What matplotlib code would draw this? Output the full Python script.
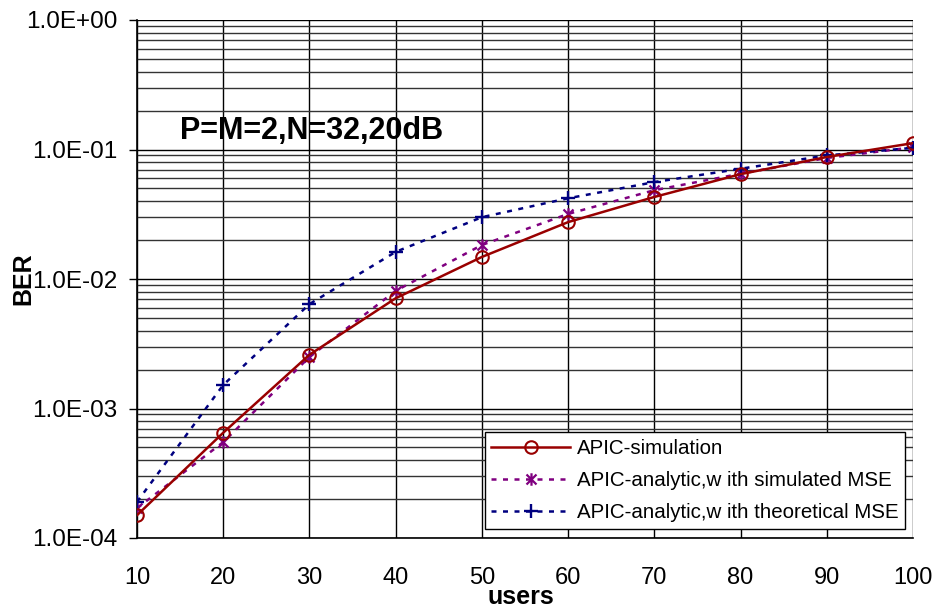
import math
import matplotlib
matplotlib.use("Agg")
import matplotlib.pyplot as plt
from matplotlib.path import Path
from matplotlib.ticker import FixedLocator, LogLocator, NullFormatter, FuncFormatter

plt.rcParams['font.family'] = ['Liberation Sans', 'DejaVu Sans']

users = [10, 20, 30, 40, 50, 60, 70, 80, 90, 100]
ber_sim = [1.5e-4, 6.5e-4, 2.6e-3, 7.1e-3, 1.48e-2, 2.75e-2, 4.3e-2, 6.45e-2, 8.75e-2, 1.12e-1]
ber_sim_mse = [1.7e-4, 5.5e-4, 2.5e-3, 8.1e-3, 1.83e-2, 3.18e-2, 4.85e-2, 6.5e-2, 8.6e-2, 1.04e-1]
ber_theo_mse = [1.9e-4, 1.52e-3, 6.4e-3, 1.62e-2, 3.0e-2, 4.2e-2, 5.6e-2, 7.1e-2, 9.0e-2, 1.03e-1]
labels = ["APIC-simulation", "APIC-analytic,w ith simulated MSE", "APIC-analytic,w ith theoretical MSE"]
annotation = "P=M=2,N=32,20dB"
xlabel = "users"
ylabel = "BER"

# Excel-style star marker: an X with a vertical bar
star = Path([(-1, -1), (1, 1), (-1, 1), (1, -1), (0, -1.25), (0, 1.25)],
            [Path.MOVETO, Path.LINETO, Path.MOVETO, Path.LINETO, Path.MOVETO, Path.LINETO])

W, H = 932, 610
fig = plt.figure(figsize=(W / 100, H / 100), dpi=100)
ax = fig.add_axes([137 / W, 1 - 538 / H, (913 - 137) / W, (538 - 20) / H])

ax.set_yscale('log')
ax.set_xlim(10, 100)
ax.set_ylim(1e-4, 1e0)

ax.plot(users, ber_sim, color='#990000', lw=1.8, marker='o', ms=9, mfc='none',
        mec='#990000', mew=1.5, label=labels[0], zorder=4)
ax.plot(users, ber_sim_mse, color='#800080', lw=1.8, ls=(0, (2.0, 2.6)), marker=star, ms=9,
        mew=1.6, label=labels[1], zorder=3)
ax.plot(users, ber_theo_mse, color='#000080', lw=1.8, ls=(0, (2.0, 2.6)), marker='+', ms=10,
        mew=1.7, label=labels[2], zorder=3)

ax.xaxis.set_major_locator(FixedLocator(users))
ax.yaxis.set_major_locator(LogLocator(base=10, numticks=10))
ax.yaxis.set_minor_locator(LogLocator(base=10, subs=range(2, 10), numticks=50))
ax.yaxis.set_minor_formatter(NullFormatter())

def fmt(v, pos):
    e = int(round(math.log10(v)))
    return "1.0E%s%02d" % ('+' if e >= 0 else '-', abs(e))
ax.yaxis.set_major_formatter(FuncFormatter(fmt))

ax.grid(True, which='major', axis='both', color='black', lw=1.0)
ax.grid(True, which='minor', axis='y', color='#333333', lw=1.0)
ax.set_axisbelow(True)

for s in ['top', 'right']:
    ax.spines[s].set_visible(False)
ax.spines['left'].set_linewidth(1.2)
ax.spines['bottom'].set_linewidth(1.2)

ax.tick_params(axis='y', which='major', length=6, width=1, direction='out', labelsize=17.5, pad=8)
ax.tick_params(axis='y', which='minor', length=0)
ax.tick_params(axis='x', which='major', length=0, labelsize=17, pad=21)

fig.text(521 / W, 1 - 604 / H, xlabel, fontsize=18, fontweight='bold', ha='center', va='baseline')
ax.set_ylabel(ylabel, fontsize=18, fontweight='bold')
ax.yaxis.set_label_coords((35 - 137) / (913 - 137), 0.5)

ax.text((180 - 137) / (913 - 137), (538 - 131) / (538 - 20), annotation, transform=ax.transAxes,
        fontsize=22, fontweight='bold', va='center', ha='left')

leg = ax.legend(loc='lower right', bbox_to_anchor=((905 - 137) / (913 - 137), (538 - 529) / (538 - 20)),
                borderaxespad=0, fontsize=14.8, frameon=True,
                fancybox=False, edgecolor='black', framealpha=1, handlelength=3.8,
                borderpad=0.32, labelspacing=0.65, handletextpad=0.35)
leg.get_frame().set_linewidth(1.0)

fig.savefig("out.png", dpi=100)
